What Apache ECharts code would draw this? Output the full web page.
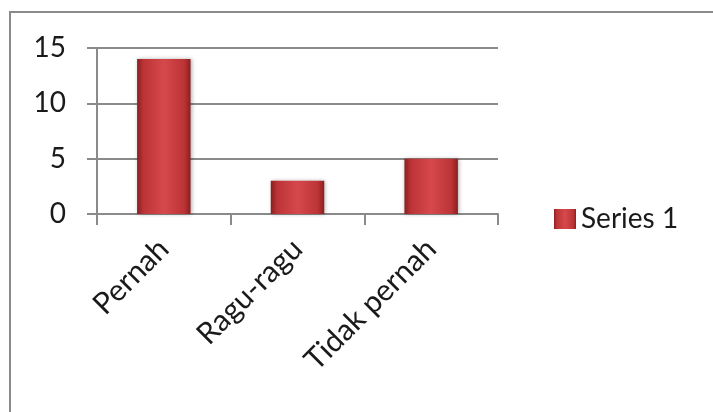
<!DOCTYPE html>
<html>
<head>
<meta charset="utf-8">
<script src="https://cdn.jsdelivr.net/npm/echarts@6/dist/echarts.min.js"></script>
<style>
html,body{margin:0;padding:0;background:#fff;}
#frame{position:absolute;left:9px;top:11px;width:720px;height:420px;border-top:2px solid #8a8a8a;border-left:2px solid #8a8a8a;box-sizing:border-box;}
#chart{position:absolute;left:0;top:0;width:713px;height:412px;}
</style>
</head>
<body>
<div id="frame"></div>
<div id="chart"></div>
<script>
const categories = ['Pernah', 'Ragu-ragu', 'Tidak pernah'];
const series1 = [14, 3, 5];
const seriesName = 'Series 1';
const yTicks = { min: 0, max: 15, interval: 5 };

const barColor = new echarts.graphic.LinearGradient(0, 0, 1, 0, [
  { offset: 0, color: '#8a1f20' },
  { offset: 0.12, color: '#bc3436' },
  { offset: 0.5, color: '#d6484b' },
  { offset: 0.88, color: '#bc3436' },
  { offset: 1, color: '#8a1f20' }
]);

const chart = echarts.init(document.getElementById('chart'), null, { renderer: 'canvas' });
chart.setOption({
  animation: false,
  backgroundColor: 'transparent',
  textStyle: { fontFamily: 'Lato' },
  grid: { left: 97, right: 215, top: 48, bottom: 198, containLabel: false },
  legend: {
    data: [seriesName],
    left: 549,
    top: 200,
    itemWidth: 22,
    itemHeight: 20,
    itemGap: 5,
    icon: 'rect',
    textStyle: { fontFamily: 'Lato', fontSize: 28, color: '#1a1a1a' }
  },
  xAxis: {
    type: 'category',
    data: categories,
    axisLine: { show: true, lineStyle: { color: '#8a8a8a', width: 2 } },
    axisTick: { show: true, length: 11, lineStyle: { color: '#8a8a8a', width: 2 } },
    axisLabel: { rotate: 45, margin: 30, fontFamily: 'Lato', fontSize: 30, color: '#1a1a1a' },
    splitLine: { show: false }
  },
  yAxis: {
    type: 'value',
    min: yTicks.min,
    max: yTicks.max,
    interval: yTicks.interval,
    axisLine: { show: true, lineStyle: { color: '#8a8a8a', width: 2 } },
    axisTick: { show: true, length: 10, lineStyle: { color: '#8a8a8a', width: 2 } },
    axisLabel: { margin: 31, fontFamily: 'Lato', fontSize: 28, color: '#1a1a1a' },
    splitLine: { show: true, lineStyle: { color: '#8a8a8a', width: 2 } }
  },
  series: [{
    name: seriesName,
    type: 'bar',
    data: series1,
    barWidth: '40%',
    itemStyle: {
      color: barColor,
      shadowColor: 'rgba(0,0,0,0.3)',
      shadowBlur: 4,
      shadowOffsetX: 1,
      shadowOffsetY: 0
    }
  }]
});
</script>
</body>
</html>
